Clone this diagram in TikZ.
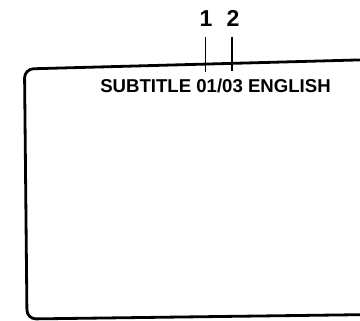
\documentclass[tikz,border=0pt]{standalone}
\usepackage{fontspec}
\setmainfont{Liberation Sans}
\usetikzlibrary{positioning}
\tikzset{
    screen/.style={draw=black, line width=2.8pt, rounded corners=9pt},
    caption/.style={inner sep=0pt, font=\fontsize{18.6}{20}\selectfont\bfseries},
    callout/.style={inner sep=0pt, font=\fontsize{23}{24}\selectfont\bfseries},
    tick/.style={draw=black, line width=1.3pt}
}

\begin{document}
\begin{tikzpicture}[x=1pt, y=-1pt]
        \useasboundingbox (0,0) rectangle (360,321);
        \clip (0,0) rectangle (360,321);

        % Bordo dello schermo
        \draw [screen] (375,59.5) -- (24.5,69) -- (27,319) -- (375,314.5);

        % Riga del sottotitolo
        \node (riga) [caption] at (215.5,85.5) {SUBTITLE 01/03 ENGLISH};

        % Richiami numerati
        \node (uno) [callout] at (206,18.5) {1};
        \node (due) [callout] at (233,18.5) {2};
        \coordinate (fine1) at (205.5,72);
        \coordinate (fine2) at (232,71);
        \draw [tick] ([yshift=-10pt]uno.south -| fine1) -- (fine1);
        \draw [tick] ([yshift=-10pt]due.south -| fine2) -- (fine2);

    \end{tikzpicture}
\end{document}
